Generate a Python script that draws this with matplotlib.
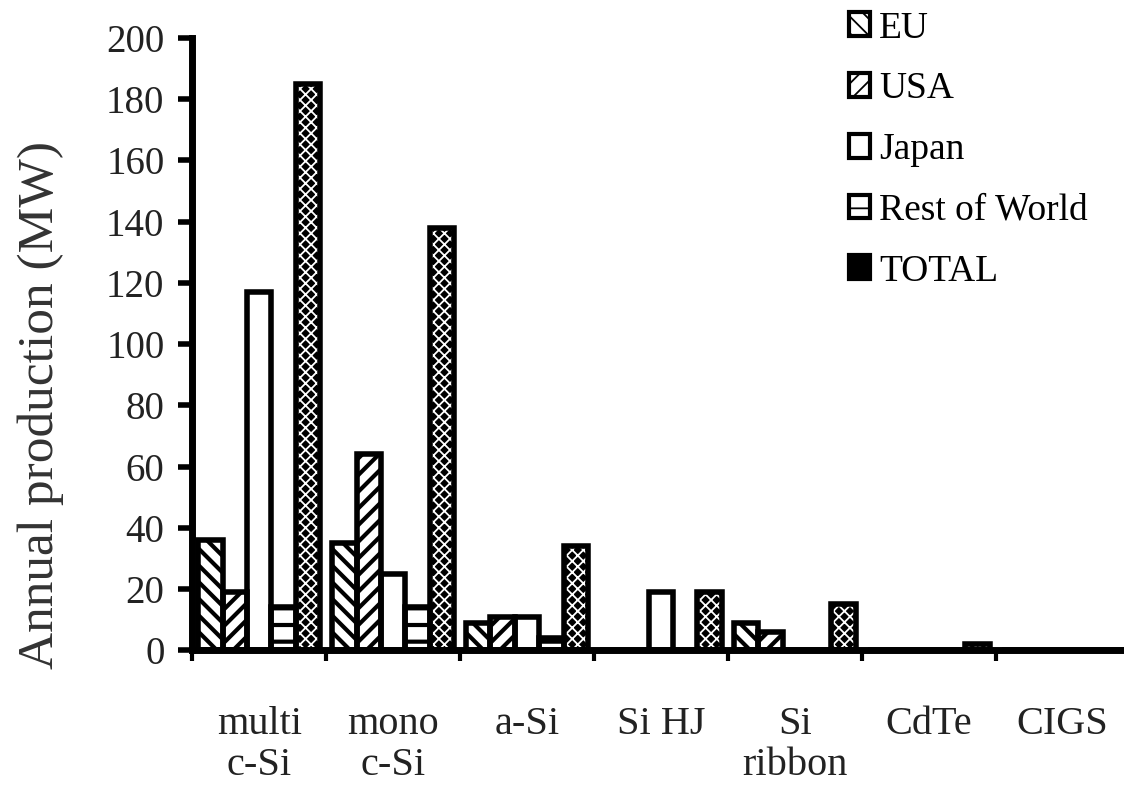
import numpy as np
import matplotlib
matplotlib.use("Agg")
import matplotlib.pyplot as plt

# 기술별 연간 생산량 (MW)
categories = ["multi\nc-Si", "mono\nc-Si", "a-Si", "Si HJ", "Si\nribbon", "CdTe", "CIGS"]
series = ["EU", "USA", "Japan", "Rest of World", "TOTAL"]
eu = [36, 35, 9, 0, 9, 0, 0]
usa = [19, 64, 11, 0, 6, 0, 0]
japan = [117, 25, 11, 19, 0, 0, 0]
row = [14, 14, 4, 0, 0, 0, 0]
total = [185, 138, 34, 19, 15, 2, 0]
yticks = [0, 20, 40, 60, 80, 100, 120, 140, 160, 180, 200]

plt.rcParams["font.family"] = ["Liberation Serif", "DejaVu Serif"]

fig = plt.figure(figsize=(11.24, 7.91), dpi=100)
ax = fig.add_axes([0.171, 0.178, 0.834, 0.774])

values = [eu, usa, japan, row, total]
hatches = ["\\\\", "//", "", "-", "xxx"]
bw = 0.182
x0 = np.arange(len(categories)) + 0.045 + bw / 2
handles = []
for i, (name, vals, h) in enumerate(zip(series, values, hatches)):
    xs = x0 + i * bw
    if name == "TOTAL":
        # 검정 바탕에 흰 무늬
        plt.rcParams["hatch.linewidth"] = 1.3
        b = ax.bar(xs, vals, bw, color="black", edgecolor="white", hatch=h,
                   linewidth=0, label=name, zorder=2)
    else:
        plt.rcParams["hatch.linewidth"] = 3.0
        b = ax.bar(xs, vals, bw, color="white", edgecolor="black", hatch=h,
                   linewidth=0, label=name, zorder=2)
    # 테두리는 따로 굵게
    ax.bar(xs, vals, bw, fill=False, edgecolor="black", linewidth=4, zorder=3)
    handles.append(b)

ax.set_xlim(0, 7)
ax.set_ylim(0, 200)
ax.set_yticks(yticks)
ax.tick_params(axis="y", direction="out", length=10, width=4, pad=10,
               labelsize=28, colors="black", labelcolor="#222222")
ax.set_xticks(np.arange(7))
ax.set_xticks(np.arange(7) + 0.5, minor=True)
ax.set_xticklabels([])
ax.set_xticklabels(categories, minor=True)
ax.tick_params(axis="x", which="major", direction="out", length=8, width=3)
ax.tick_params(axis="x", which="minor", length=0, pad=40, labelsize=29,
               labelcolor="#222222")
for lab in ax.get_xticklabels(minor=True):
    lab.set_verticalalignment("top")
    lab.set_linespacing(1.15)

for s in ["top", "right"]:
    ax.spines[s].set_visible(False)
for s in ["left", "bottom"]:
    ax.spines[s].set_linewidth(5)
ax.spines["left"].set_bounds(0, 200)

ax.set_ylabel("Annual production (MW)", fontsize=37, color="#333333")
ax.yaxis.set_label_coords(-0.137, 0.40)

leg = fig.legend(handles=handles, loc="upper left", bbox_to_anchor=(0.742, 1.005),
                 frameon=False, fontsize=27, handlelength=0.55, handleheight=0.6,
                 handletextpad=0.25, labelspacing=0.7, borderaxespad=0)
for p in leg.get_patches():
    p.set_edgecolor("black")
    p.set_linewidth(3)

fig.savefig("out.png", dpi=100, facecolor="white")
